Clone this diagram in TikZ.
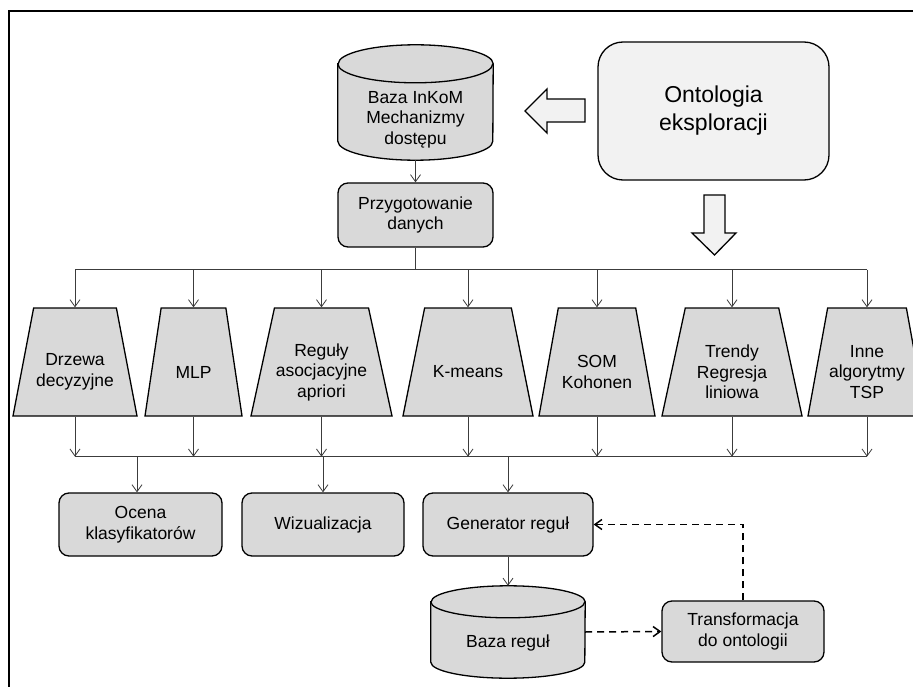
\documentclass[tikz,border=0pt]{standalone}
\usepackage{fontspec}
\setmainfont{Liberation Sans}
\usepackage{tikz}
\usetikzlibrary{shapes.geometric,arrows.meta,positioning,calc,backgrounds}
\definecolor{boxgray}{RGB}{217,217,217}
\definecolor{ontogray}{RGB}{242,242,242}
\definecolor{linegray}{RGB}{60,60,60}

\begin{document}
\begin{tikzpicture}[
      x=1pt, y=-1pt,
      every node/.style={font=\fontsize{17.5}{20.5}\selectfont},
      basebox/.style={rectangle, draw=black, line width=1.3pt, fill=boxgray,
                      rounded corners=10pt, align=center, inner sep=2pt},
      proc/.style={basebox, minimum height=63pt},
      onto/.style={basebox, fill=ontogray, rounded corners=25pt,
                   minimum width=231pt, minimum height=138pt,
                   font=\fontsize{23}{28}\selectfont},
      alg/.style={trapezium, trapezium left angle=76, trapezium right angle=76,
                  trapezium stretches=true, draw=black, line width=1.3pt,
                  fill=boxgray, minimum height=108pt, inner sep=2pt},
      db/.style={rectangle, inner sep=0pt},
      dbline/.style={draw=black, line width=1.3pt, fill=boxgray},
      lbl/.style={align=center},
      line/.style={draw=linegray, line width=0.8pt},
      arrow/.style={line, -{Straight Barb[length=7pt,width=10pt]}},
      dasharrow/.style={-{Straight Barb[length=7pt,width=10pt]}, line width=1.5pt,
                        dash pattern=on 7pt off 5pt},
      blockarrow/.style={draw=black, line width=1.3pt, fill=ontogray},
    ]
      \useasboundingbox (0,0) rectangle (913,687);
      \draw[line width=2.2pt] (9,687) -- (9,11) -- (913,11);

      % sources
      \node[db, minimum width=155pt, minimum height=115pt,
            label={[lbl, yshift=-17pt]center:{Baza InKoM\\Mechanizmy\\dostępu}}]
            (inkom) at (415.5,102.5) {};
      \node[proc, minimum width=155pt, minimum height=64pt] (prep) at (415.5,215)
            {Przygotowanie\\danych};
      \node[onto] (onto) at (713.5,111) {Ontologia\\eksploracji};
      \draw[blockarrow] (585,99) -- (547,99) -- (547,89) -- (525,111)
            -- (547,133) -- (547,122) -- (585,122) -- cycle;
      \draw[blockarrow] (704,195) -- (725,195) -- (725,233) -- (736,233)
            -- (714.5,255) -- (692,233) -- (704,233) -- cycle;

      % algorithms
      \node[alg, minimum width=124pt,
            label={[lbl, yshift=-10pt]center:{Drzewa\\decyzyjne}}] (tree) at (75,362) {};
      \node[alg, minimum width=97pt,
            label={[lbl, yshift=-10pt]center:{MLP}}] (mlp) at (193.5,362) {};
      \node[alg, minimum width=141pt,
            label={[lbl, yshift=-10pt]center:{Reguły\\asocjacyjne\\apriori}}] (apr) at (321.5,362) {};
      \node[alg, minimum width=130pt,
            label={[lbl, yshift=-10pt]center:{K-means}}] (kmeans) at (468,362) {};
      \node[alg, minimum width=116pt,
            label={[lbl, yshift=-10pt]center:{SOM\\Kohonen}}] (som) at (597,362) {};
      \node[alg, minimum width=140pt,
            label={[lbl, yshift=-10pt]center:{Trendy\\Regresja\\liniowa}}] (trend) at (732,362) {};
      \node[alg, minimum width=118pt,
            label={[lbl, yshift=-10pt]center:{Inne\\algorytmy\\TSP}}] (other) at (867,362) {};

      % results
      \node[proc, minimum width=163pt] (eval) at (140.5,524.5) {Ocena\\klasyfikatorów};
      \node[proc, minimum width=162pt] (vis) at (323,524.5) {Wizualizacja};
      \node[proc, minimum width=170pt] (gen) at (508,524.5) {Generator reguł};
      \node[db, minimum width=154pt, minimum height=92pt,
            label={[lbl, yshift=-11pt]center:{Baza reguł}}] (rules) at (508,632) {};
      \node[proc, minimum width=162pt, minimum height=61pt] (trans) at (743,631.5)
            {Transformacja\\do ontologii};

      % cylinder bodies
      \begin{scope}[on background layer]
        \draw[dbline] ([yshift=-19pt]inkom.north west) -- ([yshift=19pt]inkom.south west)
              arc[start angle=180, end angle=360, x radius=77.5pt, y radius=19pt]
              -- ([yshift=-19pt]inkom.north east)
              arc[start angle=0, end angle=180, x radius=77.5pt, y radius=19pt] -- cycle;
        \draw[dbline, fill=none] ([yshift=-19pt]inkom.north west)
              arc[start angle=180, end angle=360, x radius=77.5pt, y radius=19pt];
        \draw[dbline] ([yshift=-16pt]rules.north west) -- ([yshift=16pt]rules.south west)
              arc[start angle=180, end angle=360, x radius=77pt, y radius=16pt]
              -- ([yshift=-16pt]rules.north east)
              arc[start angle=0, end angle=180, x radius=77pt, y radius=16pt] -- cycle;
        \draw[dbline, fill=none] ([yshift=-16pt]rules.north west)
              arc[start angle=180, end angle=360, x radius=77pt, y radius=16pt];
      \end{scope}

      \draw[arrow] (inkom.south) -- (prep.north);
      \draw[line] (prep.south) -- ++(0,22) coordinate (split);
      \draw[line] (tree.north |- split) -- (other.north |- split);
      \draw[arrow] (tree.north |- split) -- (tree.north);
      \draw[arrow] (mlp.north |- split) -- (mlp.north);
      \draw[arrow] (apr.north |- split) -- (apr.north);
      \draw[arrow] (kmeans.north |- split) -- (kmeans.north);
      \draw[arrow] (som.north |- split) -- (som.north);
      \draw[arrow] (trend.north |- split) -- (trend.north);
      \draw[arrow] (other.north |- split) -- (other.north);

      \draw[arrow] (tree.south) -- ++(0,40) coordinate (merge);
      \draw[line] (tree.south |- merge) -- (other.south |- merge);
      \draw[arrow] (mlp.south) -- (mlp.south |- merge);
      \draw[arrow] (apr.south) -- (apr.south |- merge);
      \draw[arrow] (kmeans.south) -- (kmeans.south |- merge);
      \draw[arrow] (som.south) -- (som.south |- merge);
      \draw[arrow] (trend.south) -- (trend.south |- merge);
      \draw[arrow] (other.south) -- (other.south |- merge);

      \draw[arrow] ([xshift=-3.5pt]eval.north |- merge) -- ([xshift=-3.5pt]eval.north);
      \draw[arrow] (vis.north |- merge) -- (vis.north);
      \draw[arrow] (gen.north |- merge) -- (gen.north);
      \draw[arrow] (gen.south) -- (rules.north);
      \draw[dasharrow] (rules.east) -- (trans.west);
      \draw[dasharrow] (trans.north) |- (gen.east);
    \end{tikzpicture}
\end{document}
